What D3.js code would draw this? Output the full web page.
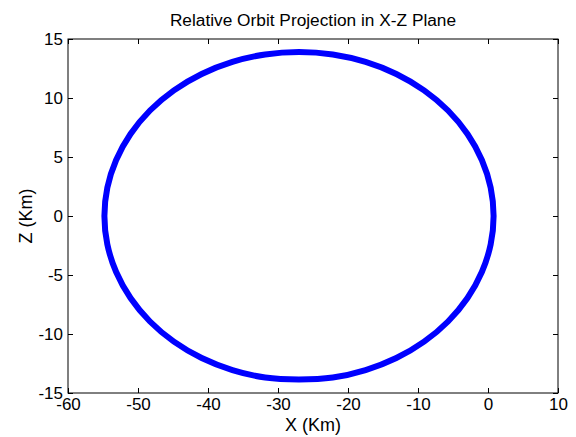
<!DOCTYPE html>
<html>
<head>
<meta charset="utf-8">
<script src="https://cdn.jsdelivr.net/npm/d3@7"></script>
<style>
  html, body { margin: 0; padding: 0; background: #fff; }
  svg { display: block; font-family: Arial, "Liberation Sans", Helvetica, sans-serif; }
</style>
</head>
<body>
<svg id="chart" width="576" height="437"></svg>
<script>
// Orbit trace in the X-Z plane (km), sampled every 10 degrees around the loop
const orbitX = [0.80, 0.38, -0.88, -2.93, -5.71, -9.13, -13.10, -17.49, -22.17, -27.00,
  -31.83, -36.51, -40.90, -44.87, -48.29, -51.07, -53.12, -54.38, -54.80,
  -54.38, -53.12, -51.07, -48.29, -44.87, -40.90, -36.51, -31.83, -27.00,
  -22.17, -17.49, -13.10, -9.13, -5.71, -2.93, -0.88, 0.38];
const orbitZ = [0.00, 2.41, 4.75, 6.95, 8.94, 10.65, 12.04, 13.06, 13.69, 13.90,
  13.69, 13.06, 12.04, 10.65, 8.94, 6.95, 4.75, 2.41, 0.00,
  -2.41, -4.75, -6.95, -8.94, -10.65, -12.04, -13.06, -13.69, -13.85,
  -13.69, -13.06, -12.04, -10.65, -8.94, -6.95, -4.75, -2.41];

const xTicks = [-60, -50, -40, -30, -20, -10, 0, 10];
const zTicks = [-15, -10, -5, 0, 5, 10, 15];

const titleText = "Relative Orbit Projection in X-Z Plane";
const xLabel = "X (Km)";
const zLabel = "Z (Km)";

const svg = d3.select("#chart");
const plotLeft = 68, plotRight = 558, plotTop = 39, plotBottom = 393;

const x = d3.scaleLinear().domain([-60, 10]).range([plotLeft, plotRight]);
const y = d3.scaleLinear().domain([-15, 15]).range([plotBottom, plotTop]);

const fontSize = 17;
const tickLen = 5;
const plainNumber = d => String(d); // keeps the ASCII hyphen for negatives

function styleAxis(g, showLabels) {
  g.select(".domain").remove();
  g.selectAll(".tick line").attr("stroke", "#000").attr("stroke-width", 1);
  g.selectAll(".tick text")
    .attr("fill", "#000")
    .style("font-size", fontSize + "px")
    .style("font-family", "Arial, 'Liberation Sans', sans-serif");
  if (!showLabels) g.selectAll(".tick text").remove();
}

// bottom / top axes with inward ticks
svg.append("g").attr("transform", `translate(0,${plotBottom})`)
  .call(d3.axisTop(x).tickValues(xTicks).tickSize(tickLen).tickFormat(""))
  .call(g => styleAxis(g, false));
svg.append("g").attr("transform", `translate(0,${plotBottom})`)
  .call(d3.axisBottom(x).tickValues(xTicks).tickSize(0).tickPadding(5).tickFormat(plainNumber))
  .call(g => styleAxis(g, true));
svg.append("g").attr("transform", `translate(0,${plotTop})`)
  .call(d3.axisBottom(x).tickValues(xTicks).tickSize(tickLen).tickFormat(""))
  .call(g => styleAxis(g, false));

// left / right axes with inward ticks
svg.append("g").attr("transform", `translate(${plotLeft},0)`)
  .call(d3.axisRight(y).tickValues(zTicks).tickSize(tickLen).tickFormat(""))
  .call(g => styleAxis(g, false));
svg.append("g").attr("transform", `translate(${plotLeft},0)`)
  .call(d3.axisLeft(y).tickValues(zTicks).tickSize(0).tickPadding(5).tickFormat(plainNumber))
  .call(g => styleAxis(g, true));
svg.append("g").attr("transform", `translate(${plotRight},0)`)
  .call(d3.axisLeft(y).tickValues(zTicks).tickSize(tickLen).tickFormat(""))
  .call(g => styleAxis(g, false));

// frame
svg.append("rect")
  .attr("x", plotLeft).attr("y", plotTop)
  .attr("width", plotRight - plotLeft).attr("height", plotBottom - plotTop)
  .attr("fill", "none").attr("stroke", "#000").attr("stroke-width", 1);

// orbit loop
const pts = orbitX.map((v, i) => [v, orbitZ[i]]);
const line = d3.line()
  .x(d => x(d[0]))
  .y(d => y(d[1]))
  .curve(d3.curveCatmullRomClosed);
svg.append("path")
  .attr("d", line(pts))
  .attr("fill", "none")
  .attr("stroke", "#0000ff")
  .attr("stroke-width", 6)
  .attr("stroke-linejoin", "round");

// title and axis labels
svg.append("text")
  .attr("x", (plotLeft + plotRight) / 2).attr("y", 26)
  .attr("text-anchor", "middle")
  .style("font-size", "17.3px")
  .text(titleText);

svg.append("text")
  .attr("x", (plotLeft + plotRight) / 2).attr("y", 431)
  .attr("text-anchor", "middle")
  .style("font-size", "18px")
  .text(xLabel);

svg.append("text")
  .attr("transform", `translate(32,${(plotTop + plotBottom) / 2}) rotate(-90)`)
  .attr("text-anchor", "middle")
  .style("font-size", "18px")
  .text(zLabel);
</script>
</body>
</html>
